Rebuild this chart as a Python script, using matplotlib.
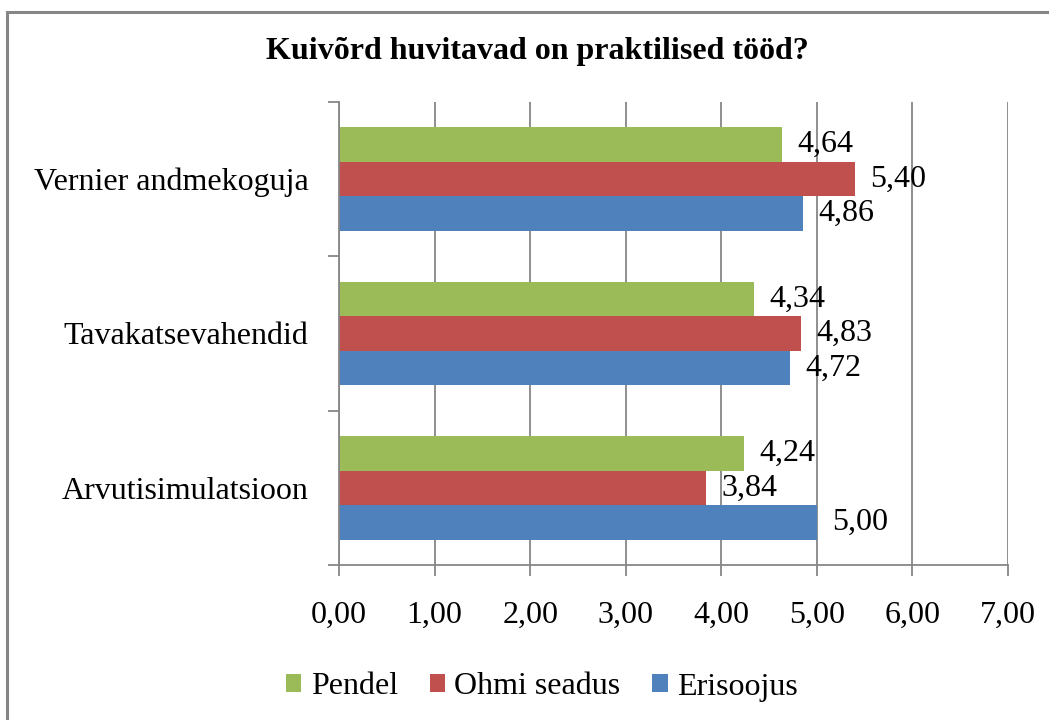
import matplotlib
matplotlib.use("Agg")
import matplotlib.pyplot as plt
from matplotlib.patches import Rectangle
import numpy as np

plt.rcParams['font.family'] = ['Liberation Serif', 'DejaVu Serif']

# data (bottom to top)
categories = ['Arvutisimulatsioon', 'Tavakatsevahendid', 'Vernier andmekoguja']
erisoojus = [5.00, 4.72, 4.86]
ohmi = [3.84, 4.83, 5.40]
pendel = [4.24, 4.34, 4.64]
series_names = ['Pendel', 'Ohmi seadus', 'Erisoojus']
xticks = [0, 1, 2, 3, 4, 5, 6, 7]

col_green = '#9BBB59'
col_red = '#C0504D'
col_blue = '#4F81BD'
grid_col = '#868686'
fs = 23

W, H = 1049, 720
fig = plt.figure(figsize=(W/100, H/100), dpi=100)
ax = fig.add_axes([339/W, 1-565/H, (1008-339)/W, (565-102)/H])

y = np.arange(len(categories))
h = 0.224
b_blue = ax.barh(y - h, erisoojus, height=h, color=col_blue, label=series_names[2], zorder=2)
b_red = ax.barh(y, ohmi, height=h, color=col_red, label=series_names[1], zorder=2)
b_green = ax.barh(y + h, pendel, height=h, color=col_green, label=series_names[0], zorder=2)

for bars, vals in [(b_blue, erisoojus), (b_red, ohmi), (b_green, pendel)]:
    for b, v in zip(bars, vals):
        ax.text(v + 0.16, b.get_y() + b.get_height()/2, ('%.2f' % v).replace('.', ','),
                va='center', ha='left', fontsize=fs, zorder=1)

ax.set_xlim(0, 7)
ax.set_ylim(-0.5, 2.5)
ax.set_xticks(xticks)
ax.set_xticklabels([('%.2f' % t).replace('.', ',') for t in xticks], fontsize=fs)
ax.xaxis.grid(True, color=grid_col, linewidth=1.3, zorder=0)
ax.set_axisbelow(True)

ax.set_yticks([-0.5, 0.5, 1.5, 2.5])
ax.set_yticklabels([])
ax.set_yticks(y, minor=True)
ax.set_yticklabels(categories, minor=True, fontsize=fs)
ax.tick_params(axis='y', which='minor', length=0, pad=22)
ax.tick_params(axis='y', which='major', length=8, width=1.3, color=grid_col, direction='out')
ax.tick_params(axis='x', length=8, width=1.3, color=grid_col, direction='out', pad=18)

for s in ['top', 'right']:
    ax.spines[s].set_visible(False)
for s in ['left', 'bottom']:
    ax.spines[s].set_color(grid_col)
    ax.spines[s].set_linewidth(1.3)

fig.text(537/W, 1-51/H, 'Kuivõrd huvitavad on praktilised tööd?', ha='center', va='center',
         fontsize=fs, fontweight='bold')

handles = [b_green, b_red, b_blue]
fig.legend(handles, series_names, loc='center', bbox_to_anchor=(542/W, 1-687/H), ncol=3,
           frameon=False, fontsize=fs, handlelength=0.47, handleheight=0.47,
           handletextpad=0.3, columnspacing=1.0)

# outer chart border (left and top edges visible)
fig.patches.append(Rectangle((7/W, -0.1), 1.5, 1-12/H + 0.1, transform=fig.transFigure,
                             fill=False, edgecolor=grid_col, linewidth=2.2))

fig.savefig('out.png', dpi=100)
